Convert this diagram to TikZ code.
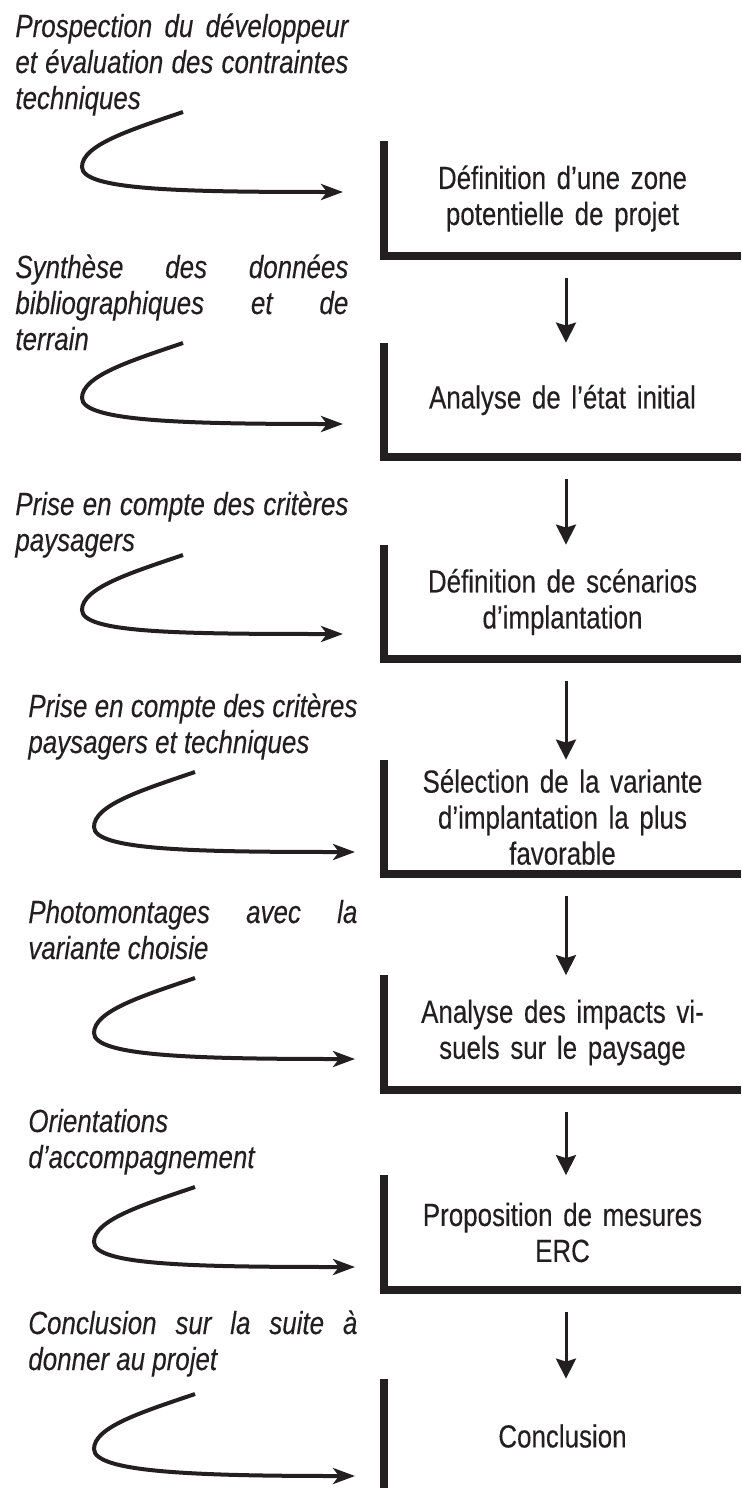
\documentclass[tikz,border=0pt]{standalone}
\usepackage{fontspec}
\setmainfont[FakeStretch=0.81, FakeBold=0.25]{Liberation Sans}
\usepackage{tikz}
\usetikzlibrary{arrows.meta, positioning, calc}

\definecolor{inkBlack}{HTML}{231F20}

\hyphenpenalty=10000
\exhyphenpenalty=10000
\tolerance=10000
\hbadness=10000
\hfuzz=6pt

\newcommand{\DrawFeed}[2]{
    \draw[feedArrow] (#1) .. controls +(-53,-18) and +(0,22) .. ++(-101,-55)
        .. controls +(0,-23) and +(-163,0) .. (#2);
}

\tikzset{
    % Arrows
    feedArrow/.style={-{Stealth[length=11pt, width=8pt, inset=3pt]}, line width=2pt, draw=inkBlack},
    flowArrow/.style={-{Stealth[length=10pt, width=10pt, inset=1.5pt]}, line width=1.5pt, draw=inkBlack},
    % Steps
    stepBox/.style={
        inner xsep=0pt, inner ysep=0pt, text width=178.5pt, minimum height=57pt,
        align=center, font=\fontsize{16}{18}\selectfont, text=inkBlack
    },
    boxLine/.style={line width=4pt, draw=inkBlack},
    % Notes on the left
    noteText/.style={inner sep=0pt, anchor=base west, align=justify, font=\itshape\fontsize{16}{18}\selectfont, text=inkBlack}
}

\begin{document}
\begin{tikzpicture}[x=0.5pt, y=0.5pt]
    \useasboundingbox (0,0) rectangle (741,-1488);

    % Steps
    \node[stepBox] (b1) at (562.5,-198.5) {Définition d'une zone\\potentielle de projet};
    \node[stepBox] (b2) at (562.5,-400) {Analyse de l'état initial};
    \node[stepBox] (b3) at (562.5,-602) {Définition de scénarios\\d'implantation};
    \node[stepBox] (b4) at (562.5,-817) {Sélection de la variante\\d'implantation la plus\\favorable};
    \node[stepBox] (b5) at (562.5,-1032.5) {Analyse des impacts vi-\\suels sur le paysage};
    \node[stepBox] (b6) at (562.5,-1232.5) {Proposition de mesures\\ERC};
    \node[stepBox] (b7) at (562.5,-1436) {Conclusion};

    \foreach \b in {b1,b2,b3,b4,b5,b6}
        \draw[boxLine] (\b.north west) |- (\b.south east);
    \draw[boxLine] (b7.north west) -- (b7.south west);

    \foreach \a/\b in {b1/b2,b2/b3,b3/b4,b4/b5,b5/b6,b6/b7}
        \draw[flowArrow] ([xshift=1.75pt, yshift=-11pt]\a.south) -- ([xshift=1.75pt]\b.north);

    % Notes
    \node[noteText, text width=166.5pt] (n1) at (15,-37) {Prospection du développeur \linebreak et évaluation des contraintes \linebreak techniques};
    \node[noteText, text width=166.5pt] (n2) at (15,-278) {Synthèse des données \linebreak bibliographiques et de \linebreak terrain};
    \node[noteText, text width=166.5pt] (n3) at (15,-515) {Prise en compte des critères \linebreak paysagers};
    \node[noteText, text width=164.5pt] (n4) at (28,-717) {Prise en compte des critères \linebreak paysagers et techniques};
    \node[noteText, text width=164.5pt] (n5) at (28,-923) {Photomontages avec la \linebreak variante choisie};
    \node[noteText, text width=164.5pt] (n6) at (28,-1132) {Orientations \linebreak d'accompagnement};
    \node[noteText, text width=164.5pt] (n7) at (28,-1334) {Conclusion sur la suite à \linebreak donner au projet};

    % Feedback curves
    \coordinate (s1) at (183,-112);  \coordinate (e1) at (343,-192);
    \coordinate (s2) at (183,-343);  \coordinate (e2) at (343,-424);
    \coordinate (s3) at (183,-555);  \coordinate (e3) at (343,-634);
    \coordinate (s4) at (195,-772);  \coordinate (e4) at (355,-852);
    \coordinate (s5) at (195,-978);  \coordinate (e5) at (355,-1059);
    \coordinate (s6) at (195,-1187); \coordinate (e6) at (355,-1267);
    \coordinate (s7) at (195,-1394); \coordinate (e7) at (355,-1476);
    \foreach \i in {1,...,7} {
        \DrawFeed{s\i}{e\i}
    }
\end{tikzpicture}
\end{document}
